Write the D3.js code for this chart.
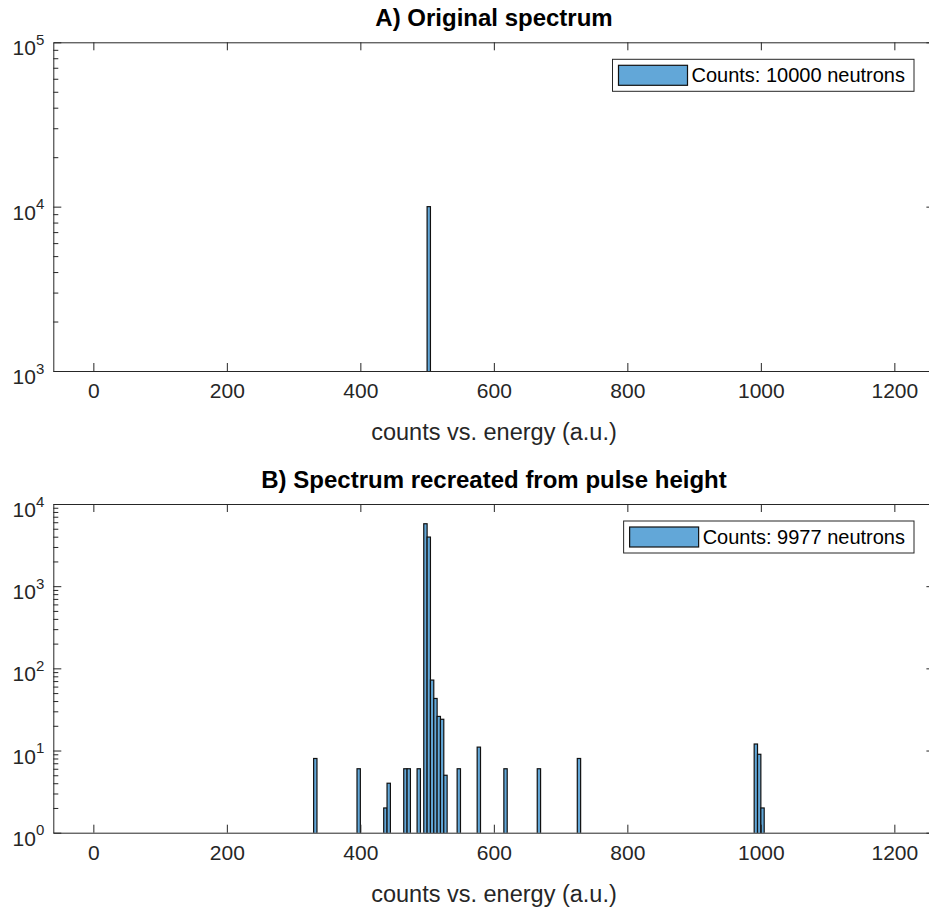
<!DOCTYPE html>
<html lang="en">
<head>
    <meta charset="utf-8">
    <script src="https://d3js.org/d3.v7.min.js"></script>
    <title>spectrum</title>
    <style>
        body {margin: 0; background: #fff;}
        svg {display: block; font-family: "Liberation Sans", Arial, Helvetica, sans-serif;}
        .axis path, .axis line {stroke: #262626;}
        .axis text {fill: #262626; font-size: 21px;}
        .bar {fill: #62a7d8; stroke: #111; stroke-width: 1.2;}
        .title {font-weight: bold; font-size: 24px; fill: #000;}
        .xlabel {font-size: 23.5px; fill: #262626;}
        .legend text {font-size: 20px; fill: #000;}
    </style>
</head>
<body>
<svg width="929" height="907"></svg>

<script>
    // data
    var xTicks = [0, 200, 400, 600, 800, 1000, 1200];
    var binWidth = 5;

    var binsA = [500];
    var countsA = [10000];

    var binsB = [330, 395, 435, 440, 465, 470, 485, 495, 500, 505, 510, 515, 520, 525, 545, 575, 615, 665, 725, 990, 995, 1000];
    var countsB = [8, 6, 2, 4, 6, 6, 6, 5750, 3959, 72, 43, 26, 24, 5, 6, 11, 6, 6, 8, 12, 9, 2];

    var titles = ['A) Original spectrum', 'B) Spectrum recreated from pulse height'];
    var xLabel = 'counts vs. energy (a.u.)';
    var legendLabels = ['Counts: 10000 neutrons', 'Counts: 9977 neutrons'];
    var yDecadesA = [1e3, 1e4, 1e5];
    var yDecadesB = [1e0, 1e1, 1e2, 1e3, 1e4];

    var svg = d3.select('svg');
    var left = 53.3, right = 934.4;

    var panels = [
        {id: 'a', top: 42.3, bottom: 371, bins: binsA, counts: countsA, decades: yDecadesA, title: titles[0], legend: legendLabels[0]},
        {id: 'b', top: 504, bottom: 832.7, bins: binsB, counts: countsB, decades: yDecadesB, title: titles[1], legend: legendLabels[1]}
    ];

    panels.forEach(function (p) {
        var x = d3.scaleLinear().domain([-60, 1260]).range([left, right]);
        var y = d3.scaleLog().domain([p.decades[0], p.decades[p.decades.length - 1]]).range([p.bottom, p.top]);
        var g = svg.append('g');

        // minor ticks 2..9 in each decade
        var minor = [];
        for (var i = 0; i < p.decades.length - 1; i++) {
            for (var k = 2; k <= 9; k++) minor.push(p.decades[i] * k);
        }

        g.append('clipPath').attr('id', 'clip-' + p.id)
            .append('rect').attr('x', left).attr('y', p.top)
            .attr('width', right - left).attr('height', p.bottom - p.top);

        // bars
        var data = p.bins.map(function (b, i) { return {x0: b, n: p.counts[i]}; });
        g.append('g').attr('clip-path', 'url(#clip-' + p.id + ')')
            .selectAll('rect').data(data).enter().append('rect')
            .attr('class', 'bar')
            .attr('x', function (d) { return x(d.x0); })
            .attr('width', function (d) { return x(d.x0 + binWidth) - x(d.x0); })
            .attr('y', function (d) { return y(d.n); })
            .attr('height', function (d) { return p.bottom - y(d.n) + 2; });

        // axes (ticks inward, box on)
        g.append('g').attr('class', 'axis').attr('transform', 'translate(0,' + p.bottom + ')')
            .call(d3.axisBottom(x).tickValues(xTicks).tickFormat(d3.format('d'))
                .tickSizeInner(-8).tickSizeOuter(0).tickPadding(12));
        g.append('g').attr('class', 'axis').attr('transform', 'translate(0,' + p.top + ')')
            .call(d3.axisTop(x).tickValues(xTicks).tickSizeInner(-8).tickSizeOuter(0).tickFormat(''));

        var yl = g.append('g').attr('class', 'axis').attr('transform', 'translate(' + left + ',0)')
            .call(d3.axisLeft(y).tickValues(p.decades).tickSizeInner(-8).tickSizeOuter(0).tickPadding(9));
        yl.selectAll('text').each(function (d) {
            var t = d3.select(this).text(null).attr('dy', '0.6em');
            t.append('tspan').text('10');
            t.append('tspan').attr('dy', '-0.7em').style('font-size', '15px').text(Math.round(Math.log10(d)));
        });
        g.append('g').attr('class', 'axis').attr('transform', 'translate(' + left + ',0)')
            .call(d3.axisLeft(y).tickValues(minor).tickSizeInner(-5).tickSizeOuter(0).tickFormat(''))
            .select('.domain').remove();

        g.append('g').attr('class', 'axis').attr('transform', 'translate(' + right + ',0)')
            .call(d3.axisRight(y).tickValues(p.decades).tickSizeInner(-8).tickSizeOuter(0).tickFormat(''));
        g.append('g').attr('class', 'axis').attr('transform', 'translate(' + right + ',0)')
            .call(d3.axisRight(y).tickValues(minor).tickSizeInner(-5).tickSizeOuter(0).tickFormat(''))
            .select('.domain').remove();

        // title and x label
        g.append('text').attr('class', 'title').attr('text-anchor', 'middle')
            .attr('x', 494).attr('y', p.top - 16).text(p.title);
        g.append('text').attr('class', 'xlabel').attr('text-anchor', 'middle')
            .attr('x', 494).attr('y', p.bottom + 69).text(xLabel);

        // legend
        var lg = g.append('g').attr('class', 'legend');
        var box = lg.append('rect').attr('fill', '#fff').attr('stroke', '#262626').attr('stroke-width', 1);
        var txt = lg.append('text').text(p.legend);
        var tw = txt.node().getComputedTextLength();
        var bw = tw + 88, bh = 32;
        var bx = 914 - bw, by = p.top + 17;
        box.attr('x', bx).attr('y', by).attr('width', bw).attr('height', bh);
        lg.append('rect').attr('class', 'bar').attr('x', bx + 6).attr('y', by + 6)
            .attr('width', 69).attr('height', 20);
        txt.attr('x', bx + 79).attr('y', by + 23);
    });
</script>
</body>
</html>
